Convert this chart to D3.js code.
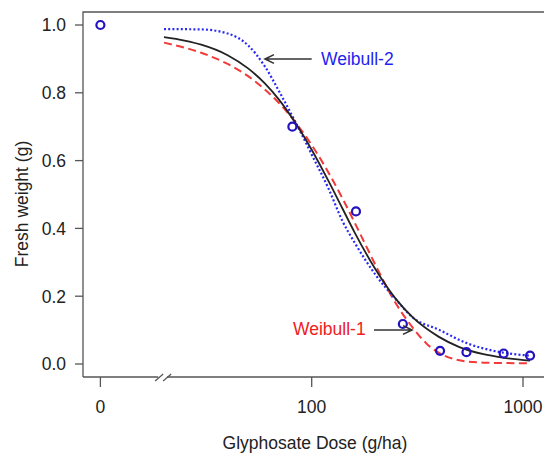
<!DOCTYPE html>
<html>
<head>
<meta charset="utf-8">
<script src="https://cdn.jsdelivr.net/npm/d3@7"></script>
<style>
  html, body { margin: 0; padding: 0; background: #fff; }
  svg { display: block; font-family: "Liberation Sans", Arial, sans-serif; }
</style>
</head>
<body>
<svg id="chart" width="544" height="455"></svg>
<script>
// Observed fresh weights (dose 0 is shown on the broken left part of the axis)
const obsDose   = [0, 81, 162, 270, 405, 540, 810, 1080];
const obsWeight = [1.0, 0.70, 0.45, 0.118, 0.039, 0.035, 0.031, 0.025];

// Fitted dose-response curves, sampled along the dose range
const llDose   = [20, 25, 30, 40, 50, 60, 70, 85, 100, 120, 140, 160, 200, 250, 300, 400, 500, 650, 800, 1080];
const llWeight = [0.964, 0.954, 0.942, 0.911, 0.872, 0.828, 0.780, 0.705, 0.632, 0.540, 0.458, 0.387, 0.280, 0.192, 0.138, 0.080, 0.050, 0.029, 0.019, 0.010];

const w1Dose   = [20, 30, 40, 50, 60, 70, 85, 100, 120, 140, 160, 180, 200, 250, 300, 350, 400, 500, 650, 800, 1080];
const w1Weight = [0.948, 0.918, 0.885, 0.849, 0.810, 0.770, 0.708, 0.646, 0.565, 0.488, 0.416, 0.351, 0.293, 0.179, 0.108, 0.060, 0.033, 0.011, 0.004, 0.003, 0.002];

const w2Dose   = [20, 30, 40, 50, 60, 70, 85, 100, 120, 140, 160, 200, 250, 300, 400, 550, 750, 1080];
const w2Weight = [0.988, 0.987, 0.975, 0.940, 0.878, 0.805, 0.706, 0.618, 0.518, 0.421, 0.357, 0.264, 0.191, 0.138, 0.101, 0.060, 0.037, 0.0245];

const yTicks = [0, 0.2, 0.4, 0.6, 0.8, 1.0];
const xTicks = [0, 100, 1000];
const xTickLabels = ["0", "100", "1000"];

// Dose 0 is drawn at this position on the log axis
const zeroAt = 10;
const breakAt = 19.6;

const svg = d3.select("#chart");
const x = d3.scaleLog().domain([100, 1000]).range([311.7, 523]);
const y = d3.scaleLinear().domain([0, 1]).range([364, 25]);
const xd = d => x(d === 0 ? zeroAt : d);

const frameLeft = 83, frameTop = 12, frameBottom = 377, frameRight = 560;
const axisCol = "#555";
const fs = 17.5;

// Plot frame: left and top sides
svg.append("path")
  .attr("d", `M${frameRight},${frameTop}H${frameLeft}V${frameBottom}`)
  .attr("fill", "none").attr("stroke", axisCol).attr("stroke-width", 1.3);

// Bottom axis with a break between the zero dose and the log range
const bx = x(breakAt);
svg.append("line").attr("x1", frameLeft).attr("x2", bx - 4).attr("y1", frameBottom).attr("y2", frameBottom)
  .attr("stroke", axisCol).attr("stroke-width", 1.3);
svg.append("line").attr("x1", bx + 5).attr("x2", frameRight).attr("y1", frameBottom).attr("y2", frameBottom)
  .attr("stroke", axisCol).attr("stroke-width", 1.3);
[-7, 1].forEach(o => {
  svg.append("line")
    .attr("x1", bx + o).attr("y1", frameBottom + 4)
    .attr("x2", bx + o + 8).attr("y2", frameBottom - 3)
    .attr("stroke", axisCol).attr("stroke-width", 1.2);
});

// Y axis ticks and labels
const yAxis = svg.append("g");
yTicks.forEach(t => {
  yAxis.append("line").attr("x1", frameLeft - 8).attr("x2", frameLeft)
    .attr("y1", y(t)).attr("y2", y(t)).attr("stroke", axisCol).attr("stroke-width", 1.3);
  yAxis.append("text").attr("x", frameLeft - 17).attr("y", y(t)).attr("dy", "0.36em")
    .attr("text-anchor", "end").attr("font-size", fs).attr("fill", "#222")
    .text(t.toFixed(1));
});

// X axis ticks and labels
xTicks.forEach((t, i) => {
  svg.append("line").attr("x1", xd(t)).attr("x2", xd(t))
    .attr("y1", frameBottom).attr("y2", frameBottom + 10).attr("stroke", axisCol).attr("stroke-width", 1.3);
  svg.append("text").attr("x", xd(t)).attr("y", 413)
    .attr("text-anchor", "middle").attr("font-size", fs).attr("fill", "#222")
    .text(xTickLabels[i]);
});

// Axis titles
svg.append("text").attr("x", 315).attr("y", 449).attr("text-anchor", "middle")
  .attr("font-size", fs).attr("fill", "#222").text("Glyphosate Dose (g/ha)");
svg.append("text").attr("transform", "translate(28,204) rotate(-90)")
  .attr("text-anchor", "middle").attr("font-size", fs).attr("fill", "#222")
  .text("Fresh weight (g)");

// Curves
const line = d3.line().x(d => x(d[0])).y(d => y(d[1])).curve(d3.curveMonotoneX);
svg.append("path").datum(d3.zip(w1Dose, w1Weight)).attr("d", line)
  .attr("fill", "none").attr("stroke", "#f23a3a").attr("stroke-width", 2)
  .attr("stroke-dasharray", "8,4.5");
svg.append("path").datum(d3.zip(w2Dose, w2Weight)).attr("d", line)
  .attr("fill", "none").attr("stroke", "#2a2af5").attr("stroke-width", 2.2)
  .attr("stroke-dasharray", "2,2.2");
svg.append("path").datum(d3.zip(llDose, llWeight)).attr("d", line)
  .attr("fill", "none").attr("stroke", "#222").attr("stroke-width", 1.8);

// Observations
svg.append("g").selectAll("circle").data(d3.zip(obsDose, obsWeight)).join("circle")
  .attr("cx", d => xd(d[0])).attr("cy", d => y(d[1])).attr("r", 4)
  .attr("fill", "none").attr("stroke", "#2412c0").attr("stroke-width", 2.2);

// Curve labels with arrows
function arrow(x1, y1, x2, y2) {
  const a = Math.atan2(y2 - y1, x2 - x1), L = 10, s = 0.45;
  const p = `M${x1},${y1}L${x2},${y2}` +
    `M${x2 - L * Math.cos(a - s)},${y2 - L * Math.sin(a - s)}L${x2},${y2}` +
    `L${x2 - L * Math.cos(a + s)},${y2 - L * Math.sin(a + s)}`;
  svg.append("path").attr("d", p).attr("fill", "none")
    .attr("stroke", "#333").attr("stroke-width", 1.6);
}
arrow(311.7, 59, 265, 59);
svg.append("text").attr("x", 321).attr("y", 64.5).attr("font-size", fs)
  .attr("fill", "#1f1ff0").text("Weibull-2");
arrow(374, 330, 412, 330);
svg.append("text").attr("x", 293).attr("y", 334.5).attr("font-size", fs)
  .attr("fill", "#f02020").text("Weibull-1");
</script>
</body>
</html>
